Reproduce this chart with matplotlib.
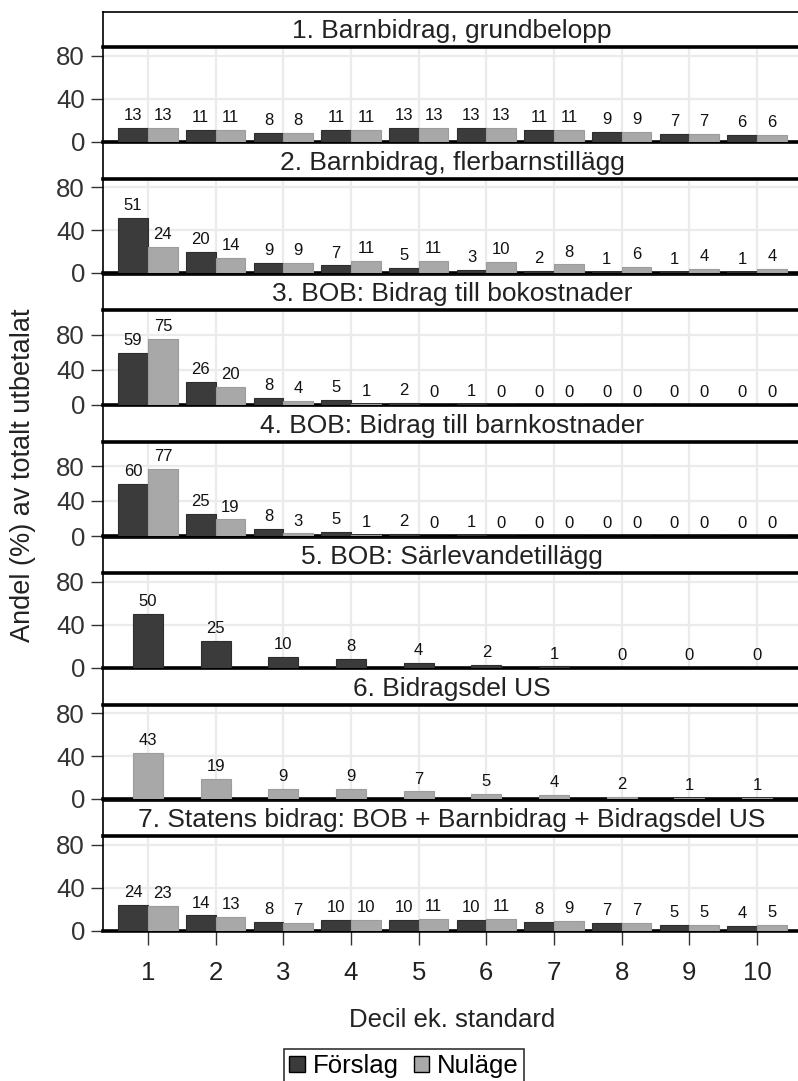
import matplotlib.pyplot as plt

plt.rcParams['font.family'] = ['Liberation Sans', 'DejaVu Sans']

deciles = [1, 2, 3, 4, 5, 6, 7, 8, 9, 10]

titles = [
    '1. Barnbidrag, grundbelopp',
    '2. Barnbidrag, flerbarnstillägg',
    '3. BOB: Bidrag till bokostnader',
    '4. BOB: Bidrag till barnkostnader',
    '5. BOB: Särlevandetillägg',
    '6. Bidragsdel US',
    '7. Statens bidrag: BOB + Barnbidrag + Bidragsdel US',
]

# None = series missing in that panel
forslag = [
    [13, 11, 8, 11, 13, 13, 11, 9, 7, 6],
    [51, 20, 9, 7, 5, 3, 2, 1, 1, 1],
    [59, 26, 8, 5, 2, 1, 0, 0, 0, 0],
    [60, 25, 8, 5, 2, 1, 0, 0, 0, 0],
    [50, 25, 10, 8, 4, 2, 1, 0, 0, 0],
    None,
    [24, 14, 8, 10, 10, 10, 8, 7, 5, 4],
]
nulage = [
    [13, 11, 8, 11, 13, 13, 11, 9, 7, 6],
    [24, 14, 9, 11, 11, 10, 8, 6, 4, 4],
    [75, 20, 4, 1, 0, 0, 0, 0, 0, 0],
    [77, 19, 3, 1, 0, 0, 0, 0, 0, 0],
    None,
    [43, 19, 9, 9, 7, 5, 4, 2, 1, 1],
    [23, 13, 7, 10, 11, 11, 9, 7, 5, 5],
]

# upper y limit per panel
ytop = [88, 88, 108, 108, 88, 88, 88]

dark = '#3b3b3b'
light = '#a8a8a8'

W, H = 798, 1081
fig = plt.figure(figsize=(W / 100, H / 100), dpi=100)

left_px = 103
right_px = 805
pitch = 131.5
plot_h = 94.5
head_h = 35.5
bw = 0.44

for k in range(7):
    zero = 141.5 + k * pitch
    top = zero - plot_h

    hax = fig.add_axes([left_px / W, 1 - top / H, (right_px - left_px) / W, head_h / H])
    hax.set_xticks([])
    hax.set_yticks([])
    for s in hax.spines.values():
        s.set_linewidth(1.2)
    hax.text((452 - left_px) / (right_px - left_px), 0.45, titles[k],
             transform=hax.transAxes, ha='center', va='center', fontsize=19, color='#222222')

    ax = fig.add_axes([left_px / W, 1 - zero / H, (right_px - left_px) / W, plot_h / H])
    ax.set_xlim(0.335, 10 + (right_px - 757) / 67.67)
    ax.set_ylim(0, ytop[k])
    ax.set_yticks([0, 40, 80])
    ax.tick_params(axis='y', length=9, width=1, labelsize=18.5, colors='#333333', pad=4)
    ax.set_xticks(deciles)
    ax.grid(True, color='#ebebeb', linewidth=1.6)
    ax.set_axisbelow(True)
    ax.spines['right'].set_visible(False)
    ax.spines['top'].set_linewidth(2.6)
    ax.spines['bottom'].set_linewidth(2.6)
    ax.spines['left'].set_linewidth(1.2)

    both = forslag[k] is not None and nulage[k] is not None
    series = []
    if forslag[k] is not None:
        series.append((forslag[k], dark, '#2e2e2e', -bw / 2 if both else 0))
    if nulage[k] is not None:
        series.append((nulage[k], light, '#9c9c9c', bw / 2 if both else 0))
    for vals, col, ec, off in series:
        xs = [d + off for d in deciles]
        ax.bar(xs, vals, width=bw, color=col, edgecolor=ec, linewidth=0.8, zorder=3)
        for x, v in zip(xs, vals):
            ax.annotate(str(v), (x, v), xytext=(0, 3.5), textcoords='offset points',
                        ha='center', va='bottom', fontsize=12, color='#111111')

    if k < 6:
        ax.tick_params(axis='x', length=0, labelbottom=False)
    else:
        ax.tick_params(axis='x', length=10, width=1, labelsize=18.5, colors='#333333', pad=12)
        for lab in ax.get_xticklabels():
            lab.set_color('#222222')

fig.text(23 / W, 1 - 475 / H, 'Andel (%) av totalt utbetalat', rotation=90,
         ha='center', va='center', fontsize=19.5, color='#222222')
fig.text(452 / W, 1 - 1020 / H, 'Decil ek. standard', ha='center', va='center',
         fontsize=18.5, color='#222222')

handles = [plt.Rectangle((0, 0), 1, 1, facecolor=dark, edgecolor='black', linewidth=1),
           plt.Rectangle((0, 0), 1, 1, facecolor=light, edgecolor='black', linewidth=1)]
leg = fig.legend(handles, ['Förslag', 'Nuläge'], loc='center', bbox_to_anchor=(404 / W, 1 - 1066 / H),
                 ncol=2, fontsize=18.5, frameon=True, fancybox=False, edgecolor='black',
                 handlelength=0.6, handleheight=0.6, handletextpad=0.3, columnspacing=0.6,
                 borderpad=0.2, borderaxespad=0)
leg.get_frame().set_linewidth(1.2)

fig.savefig('out.png', dpi=100)
